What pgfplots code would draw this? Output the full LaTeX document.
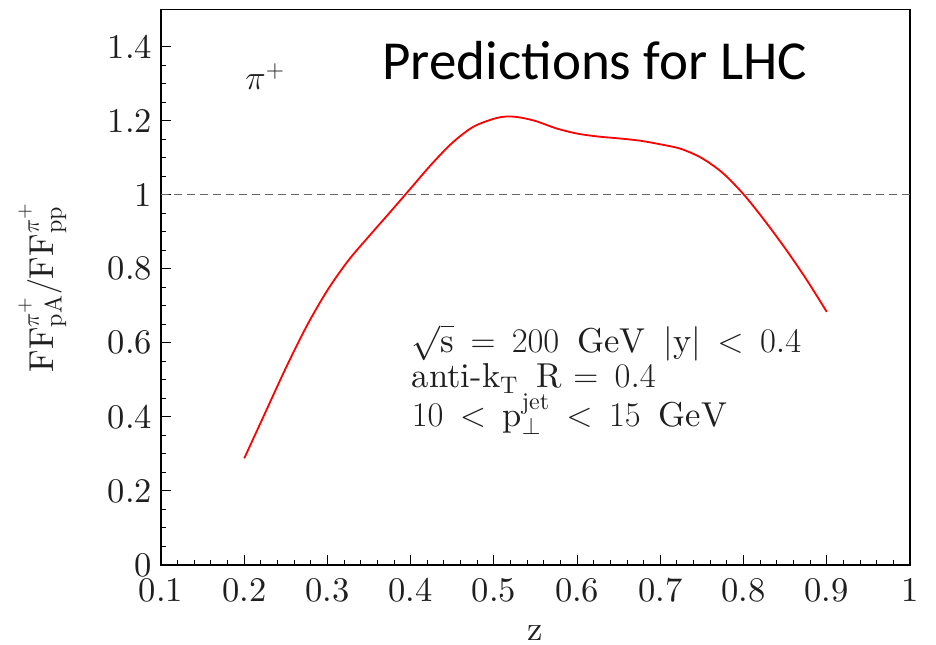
\documentclass[border=0pt]{standalone}
\usepackage{fontspec}
\setmainfont{lmroman10-regular.otf}
\usepackage{pgfplots}
\pgfplotsset{compat=1.18}
\newfontfamily\calibri{Carlito}
\newcommand\bigf{\fontsize{17.28}{20}\selectfont}
\newcommand\gap{\hspace{0.52em}}
\pgfplotstableread{
z r
0.200 0.288
0.225 0.410
0.250 0.532
0.275 0.645
0.300 0.742
0.325 0.822
0.350 0.888
0.375 0.952
0.400 1.017
0.425 1.082
0.450 1.140
0.475 1.183
0.500 1.205
0.515 1.211
0.530 1.209
0.550 1.199
0.575 1.179
0.600 1.165
0.625 1.157
0.650 1.152
0.675 1.146
0.700 1.136
0.725 1.1235
0.750 1.0985
0.775 1.0585
0.800 1.001
0.825 0.931
0.850 0.855
0.875 0.773
0.900 0.6835
}\ratio
\begin{document}
\begin{tikzpicture}
\useasboundingbox (0,0) rectangle (468pt,322pt);
\begin{axis}[
  scale only axis, width=374.5pt, height=277.75pt,
  at={(80.5pt,39.5pt)}, anchor=south west,
  xmin=0.1, xmax=1, ymin=0, ymax=1.5,
  xtick={0.1,0.2,0.3,0.4,0.5,0.6,0.7,0.8,0.9,1},
  ytick={0,0.2,0.4,0.6,0.8,1,1.2,1.4},
  minor x tick num=4, minor y tick num=3,
  xtick pos=left, ytick pos=left,
  tick align=inside,
  major tick length=5pt, minor tick length=2.5pt,
  axis line style={line width=0.7pt},
  every tick/.style={line width=0.5pt, black},
  /pgf/number format/assume math mode=true,
  tick label style={font=\bigf, text=black!88},
  xticklabel style={yshift=-3pt},
  yticklabel style={xshift=-1pt},
  xlabel={z},
  xlabel style={font=\bigf, text=black!88, at={(axis description cs:0.5,0)}, anchor=base, yshift=-37.5pt},
  ylabel={$\mathrm{FF}^{\pi^+}_{\mathrm{pA}}/\mathrm{FF}^{\pi^+}_{\mathrm{pp}}$},
  ylabel style={font=\bigf, text=black!88, at={(axis description cs:0,0.5)}, rotate=0, anchor=base, yshift=54pt},
]
\addplot[gray!80!black, line width=0.45pt, dash pattern=on 4pt off 2.5pt] coordinates {(0.1,1) (1,1)};
\addplot[red, line width=0.9pt, smooth, tension=0.5] table[x=z, y=r] {\ratio};
\node[anchor=base west, inner sep=0, font=\fontsize{27.5}{30}\calibri] at (axis cs:0.3656,1.312) {Predictions for LHC};
\node[anchor=base west, inner sep=0, font=\bigf, text=black!88] at (axis cs:0.201,1.283) {$\pi^+$};
\node[anchor=base west, inner sep=0, font=\bigf, text=black!88] at (axis cs:0.401,0.575) {\thickmuskip=8.5mu $\sqrt{\mathrm{s}} = 200\gap\mathrm{GeV}\gap|\mathrm{y}| < 0.4$};
\node[anchor=base west, inner sep=0, font=\bigf, text=black!88] at (axis cs:0.401,0.478) {\thickmuskip=8.5mu anti-k$_{\mathrm{T}}$\gap R $= 0.4$};
\node[anchor=base west, inner sep=0, font=\bigf, text=black!88] at (axis cs:0.401,0.375) {\thickmuskip=8.5mu $10 < \mathrm{p}_{\perp}^{\mathrm{jet}} < 15\gap\mathrm{GeV}$};
\end{axis}
\end{tikzpicture}
\end{document}
